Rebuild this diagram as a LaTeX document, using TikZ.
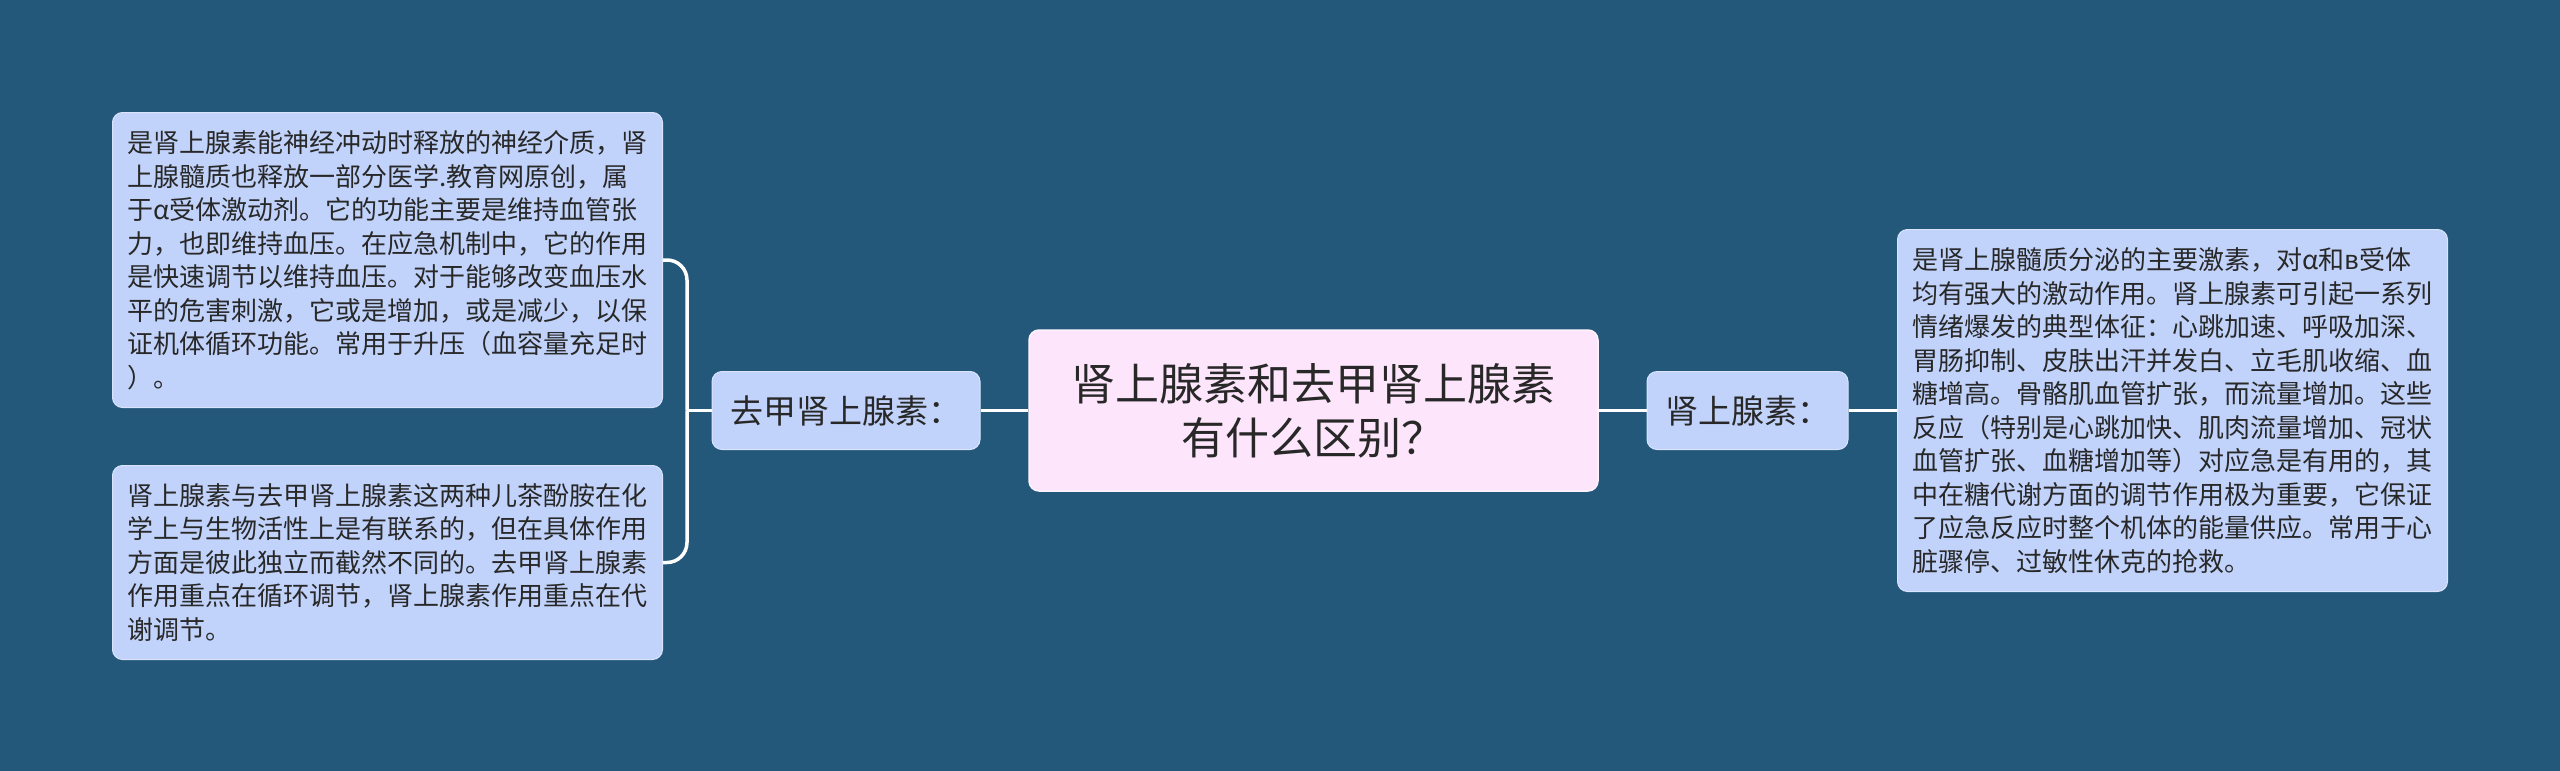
\documentclass[tikz,border=0pt]{standalone}
\usepackage{fontspec}
\newfontfamily\cjk{Noto Sans CJK SC}
\definecolor{bgc}{RGB}{35,88,122}
\definecolor{boxc}{RGB}{193,211,251}
\definecolor{rootc}{RGB}{253,229,251}
\definecolor{txt}{RGB}{40,40,40}
\tikzset{
  body/.style={anchor=north west, fill=boxc, draw=boxc!60!white, line width=1pt, rounded corners=10pt,
    text width=520pt, inner xsep=15pt, inner ysep=0pt, align=left, text=txt,
    font=\cjk\fontsize{26}{33.5}\selectfont},
  mid/.style={fill=boxc, draw=boxc!60!white, line width=1pt, rounded corners=10pt, inner xsep=0pt,
    inner ysep=0pt, text=txt, minimum height=78pt, font=\cjk\fontsize{33}{40}\selectfont},
  root/.style={fill=rootc, draw=rootc!50!white, line width=1.5pt, rounded corners=10pt, align=center,
    minimum width=569pt, minimum height=161pt, text=txt, inner sep=0pt,
    font=\cjk\fontsize{44}{54}\selectfont},
  conn/.style={draw=white, line width=3.5pt}
}
\begin{document}
\begin{tikzpicture}[x=1pt,y=-1pt]
\fill[bgc] (0,0) rectangle (2560,771);
\useasboundingbox (0,0) rectangle (2560,771);

\node[root] (root) at (1313.5,410.5) {肾上腺素和去甲肾上腺素\\有什么区别？};

\node[mid, minimum width=268pt] (lmid) at (846,410.5) {去甲肾上腺素：};
\node[mid, minimum width=201pt] (rmid) at (1747.5,410.5) {肾上腺素：};

\node[body, minimum height=295pt] (ltop) at (112,112) {是肾上腺素能神经冲动时释放的神经介质，肾\\
上腺髓质也释放一部分医学.教育网原创，属\\
于α受体激动剂。它的功能主要是维持血管张\\
力，也即维持血压。在应急机制中，它的作用\\
是快速调节以维持血压。对于能够改变血压水\\
平的危害刺激，它或是增加，或是减少，以保\\
证机体循环功能。常用于升压（血容量充足时\\
）。};

\node[body, minimum height=194pt] (lbot) at (112,465) {肾上腺素与去甲肾上腺素这两种儿茶酚胺在化\\
学上与生物活性上是有联系的，但在具体作用\\
方面是彼此独立而截然不同的。去甲肾上腺素\\
作用重点在循环调节，肾上腺素作用重点在代\\
谢调节。};

\node[body, minimum height=362pt] (rbox) at (1897,229) {是肾上腺髓质分泌的主要激素，对α和в受体\\
均有强大的激动作用。肾上腺素可引起一系列\\
情绪爆发的典型体征：心跳加速、呼吸加深、\\
胃肠抑制、皮肤出汗并发白、立毛肌收缩、血\\
糖增高。骨骼肌血管扩张，而流量增加。这些\\
反应（特别是心跳加快、肌肉流量增加、冠状\\
血管扩张、血糖增加等）对应急是有用的，其\\
中在糖代谢方面的调节作用极为重要，它保证\\
了应急反应时整个机体的能量供应。常用于心\\
脏骤停、过敏性休克的抢救。};

\coordinate (j) at (687,410.5);
\begin{scope}[on background layer/.try]
\end{scope}
\draw[conn] (root.west) -- (lmid.east);
\draw[conn] (lmid.west) -- (j);
\draw[conn, rounded corners=20pt] (ltop.east) -| (j);
\draw[conn, rounded corners=20pt] (lbot.east) -| (j);
\draw[conn] (root.east) -- (rmid.west);
\draw[conn] (rmid.east) -- (rbox.west);
\end{tikzpicture}
\end{document}
